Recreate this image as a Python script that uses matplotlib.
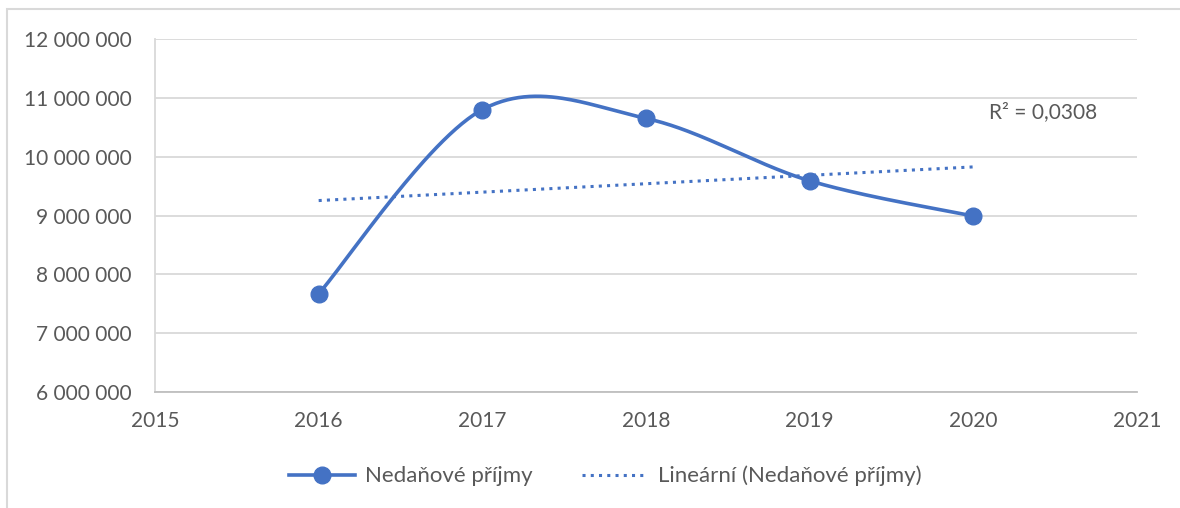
import numpy as np
import matplotlib
matplotlib.use('Agg')
import matplotlib.pyplot as plt
from matplotlib.patches import Rectangle
from matplotlib.ticker import FuncFormatter

# data
years = [2016, 2017, 2018, 2019, 2020]
prijmy = [7670000, 10800000, 10650000, 9590000, 8990000]
r2_label = 'R² = 0,0308'
series_label = 'Nedaňové příjmy'
trend_label = 'Lineární (Nedaňové příjmy)'

BLUE = '#4472C4'
GRID = '#D9D9D9'
TXT = '#595959'

plt.rcParams['font.family'] = ['Lato', 'DejaVu Sans']


def excel_smooth(x, y, n=60):
    # excel style smoothed line: bezier segments, control points from neighbours
    x = np.asarray(x, float)
    y = np.asarray(y, float)
    px = np.concatenate([[x[0]], x, [x[-1]]])
    py = np.concatenate([[y[0]], y, [y[-1]]])
    xs, ys = [], []
    t = np.linspace(0, 1, n)
    for i in range(1, len(px) - 2):
        p0 = np.array([px[i], py[i]])
        p3 = np.array([px[i + 1], py[i + 1]])
        c1 = p0 + (np.array([px[i + 1], py[i + 1]]) - np.array([px[i - 1], py[i - 1]])) / 6
        c2 = p3 - (np.array([px[i + 2], py[i + 2]]) - np.array([px[i], py[i]])) / 6
        b = ((1 - t) ** 3)[:, None] * p0 + (3 * (1 - t) ** 2 * t)[:, None] * c1 \
            + (3 * (1 - t) * t ** 2)[:, None] * c2 + (t ** 3)[:, None] * p3
        xs.append(b[:, 0])
        ys.append(b[:, 1])
    return np.concatenate(xs), np.concatenate(ys)


fig = plt.figure(figsize=(11.8, 5.08), dpi=100)
ax = fig.add_axes([155 / 1180, 1 - 392 / 508, (1137 - 155) / 1180, (392 - 39) / 508])

sx, sy = excel_smooth(years, prijmy)
ax.plot(sx, sy, color=BLUE, lw=2.6, solid_capstyle='round', zorder=3)
ax.plot(years, prijmy, 'o', color=BLUE, ms=12, zorder=4)

# linear trend
k, q = np.polyfit(years, prijmy, 1)
tx = np.array([years[0], years[-1]])
ax.plot(tx, k * tx + q, color=BLUE, lw=2.2, linestyle=(0, (1, 1.7)), zorder=2)

ax.set_xlim(2015, 2021)
ax.set_ylim(6000000, 12000000)
ax.set_xticks(range(2015, 2022))
ax.set_yticks(range(6000000, 12000001, 1000000))
ax.yaxis.set_major_formatter(FuncFormatter(lambda v, p: f'{int(v):,}'.replace(',', ' ')))
ax.grid(axis='y', color=GRID, lw=1.3)
ax.set_axisbelow(True)
for s in ['top', 'right']:
    ax.spines[s].set_visible(False)
ax.spines['bottom'].set_color('#BFBFBF')
ax.spines['bottom'].set_linewidth(1.3)
ax.spines['left'].set_color(GRID)
ax.spines['left'].set_linewidth(1.3)
ax.tick_params(length=0, labelsize=15, colors=TXT)
ax.tick_params(axis='y', pad=17)
ax.tick_params(axis='x', pad=14)

fig.text(1097 / 1180, 1 - 112 / 508, r2_label, ha='right', va='center', fontsize=15, color=TXT)

h1 = plt.Line2D([], [], color=BLUE, lw=2.6, marker='o', ms=12)
h2 = plt.Line2D([], [], color=BLUE, lw=2.2, linestyle=(0, (1, 1.7)))
fig.legend([h1, h2], [series_label, trend_label], loc='center', bbox_to_anchor=(0.513, 1 - 476 / 508),
           ncol=2, frameon=False, fontsize=16, labelcolor=TXT, handlelength=3.0,
           columnspacing=2.2, handletextpad=0.45)

# chart border (cut off on right and bottom)
fig.add_artist(Rectangle((7 / 1180, -0.1), 1.2, 1.1 - 9 / 508, transform=fig.transFigure,
                         fill=False, ec=GRID, lw=1.5))

fig.savefig('out.png', dpi=100)
